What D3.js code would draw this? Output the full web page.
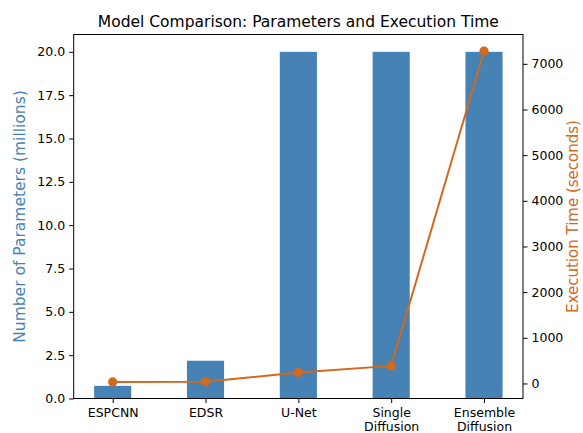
<!DOCTYPE html>
<html>
<head>
<meta charset="utf-8">
<script src="https://cdn.jsdelivr.net/npm/d3@7"></script>
<style>
  body { margin: 0; background: #fff; }
  svg { font-family: "DejaVu Sans", sans-serif; }
  .axis path, .axis line { stroke: #000; stroke-width: 1; }
</style>
</head>
<body>
<svg id="chart"></svg>
<script>
// model names (split on "\n" into two lines)
const models = ["ESPCNN", "EDSR", "U-Net", "Single\nDiffusion", "Ensemble\nDiffusion"];
// parameters in millions
const params = [0.73, 2.18, 20, 20, 20];
// execution time in seconds
const times = [33, 36, 240, 385, 7280];
const paramTicks = [0, 2.5, 5, 7.5, 10, 12.5, 15, 17.5, 20];
const timeTicks = [0, 1000, 2000, 3000, 4000, 5000, 6000, 7000];

const width = 583, height = 433;
const margin = { top: 34.5, right: 60, bottom: 34.5, left: 73.7 };
const innerW = width - margin.left - margin.right;
const innerH = height - margin.top - margin.bottom;

const barColor = "#4682b4";
const lineColor = "#d2691e";

const svg = d3.select("#chart").attr("width", width).attr("height", height);
const g = svg.append("g").attr("transform", `translate(${margin.left},${margin.top})`);

// x is positional index, like matplotlib bar positions
const x = d3.scaleLinear().domain([-0.42, models.length - 1 + 0.42]).range([0, innerW]);
const yLeft = d3.scaleLinear().domain([0, d3.max(params) * 1.05]).range([innerH, 0]);
const tExt = d3.extent(times);
const tPad = (tExt[1] - tExt[0]) * 0.05;
const yRight = d3.scaleLinear().domain([tExt[0] - tPad, tExt[1] + tPad]).range([innerH, 0]);

const barW = 0.4;
const data = models.map((m, i) => ({ name: m, i: i, p: params[i], t: times[i] }));

// bars
g.selectAll(".bar")
  .data(data)
  .enter()
  .append("rect")
  .attr("class", "bar")
  .attr("x", d => x(d.i - barW / 2))
  .attr("width", d => x(d.i + barW / 2) - x(d.i - barW / 2))
  .attr("y", d => yLeft(d.p))
  .attr("height", d => yLeft(0) - yLeft(d.p))
  .attr("fill", barColor);

// execution time line
const line = d3.line().x(d => x(d.i)).y(d => yRight(d.t));
g.append("path")
  .datum(data)
  .attr("d", line)
  .attr("fill", "none")
  .attr("stroke", lineColor)
  .attr("stroke-width", 2);

g.selectAll(".dot")
  .data(data)
  .enter()
  .append("circle")
  .attr("class", "dot")
  .attr("cx", d => x(d.i))
  .attr("cy", d => yRight(d.t))
  .attr("r", 4.6)
  .attr("fill", lineColor);

// axes
function styleAxis(sel) {
  sel.attr("font-family", "DejaVu Sans, sans-serif").attr("font-size", 12.5);
  sel.select(".domain").remove();
  sel.selectAll(".tick text").attr("fill", "#000");
}

const xAxis = g.append("g")
  .attr("class", "axis")
  .attr("transform", `translate(0,${innerH})`)
  .call(d3.axisBottom(x).tickValues(d3.range(models.length)).tickSize(4.5).tickSizeOuter(0).tickPadding(5).tickFormat(""));
styleAxis(xAxis);
xAxis.selectAll(".tick text")
  .data(models)
  .each(function (d) {
    const t = d3.select(this);
    d.split("\n").forEach((s, k) => {
      t.append("tspan").attr("x", 0).attr("dy", k === 0 ? "0.71em" : "1.15em").text(s);
    });
  });

const yAxisL = g.append("g")
  .attr("class", "axis")
  .call(d3.axisLeft(yLeft).tickValues(paramTicks).tickSize(4.5).tickPadding(4).tickFormat(d3.format(".1f")));
styleAxis(yAxisL);

const yAxisR = g.append("g")
  .attr("class", "axis")
  .attr("transform", `translate(${innerW},0)`)
  .call(d3.axisRight(yRight).tickValues(timeTicks).tickSize(4.5).tickPadding(4).tickFormat(d3.format("d")));
styleAxis(yAxisR);

// frame
g.append("rect")
  .attr("width", innerW)
  .attr("height", innerH)
  .attr("fill", "none")
  .attr("stroke", "#000")
  .attr("stroke-width", 1);

// title and axis labels
svg.append("text")
  .attr("x", margin.left + innerW / 2)
  .attr("y", 26.5)
  .attr("text-anchor", "middle")
  .style("font-size", "15.5px")
  .text("Model Comparison: Parameters and Execution Time");

svg.append("text")
  .attr("transform", `translate(25,${margin.top + innerH / 2}) rotate(-90)`)
  .attr("text-anchor", "middle")
  .style("font-size", "15.5px")
  .attr("fill", barColor)
  .text("Number of Parameters (millions)");

svg.append("text")
  .attr("transform", `translate(578,${margin.top + innerH / 2}) rotate(-90)`)
  .attr("text-anchor", "middle")
  .style("font-size", "15px")
  .attr("fill", lineColor)
  .text("Execution Time (seconds)");
</script>
</body>
</html>
